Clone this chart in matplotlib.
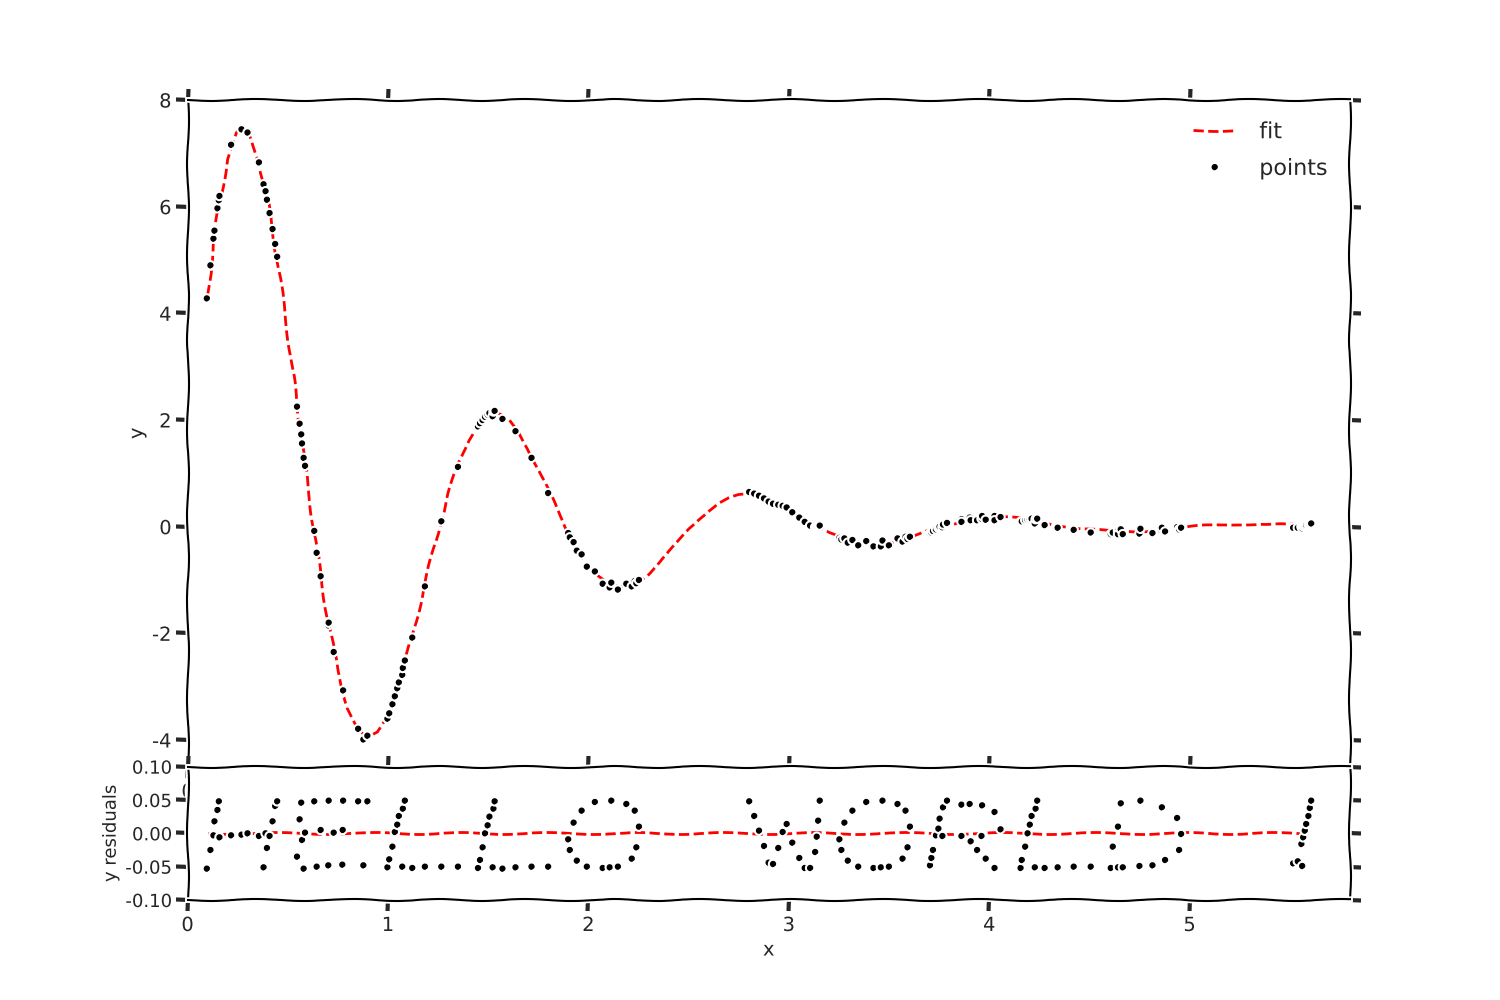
import matplotlib
matplotlib.use("Agg")
import matplotlib.pyplot as plt
from matplotlib.ticker import FormatStrFormatter

# ---- fit curve ----
fit_x = [0.10, 0.15, 0.20, 0.25, 0.275, 0.30, 0.35, 0.40, 0.45, 0.50, 0.55, 0.60, 0.65, 0.70, 0.75,
         0.80, 0.85, 0.90, 0.95, 1.00, 1.05, 1.10, 1.15, 1.20, 1.25, 1.30, 1.35, 1.40, 1.45,
         1.50, 1.55, 1.60, 1.65, 1.70, 1.75, 1.80, 1.85, 1.90, 1.95, 2.00, 2.05, 2.10, 2.15,
         2.20, 2.25, 2.30, 2.35, 2.40, 2.45, 2.50, 2.55, 2.60, 2.65, 2.70, 2.75, 2.80, 2.85,
         2.90, 2.95, 3.00, 3.05, 3.10, 3.15, 3.20, 3.25, 3.30, 3.35, 3.40, 3.45, 3.50, 3.55,
         3.60, 3.65, 3.70, 3.75, 3.80, 3.85, 3.90, 3.95, 4.00, 4.05, 4.10, 4.15, 4.20, 4.25,
         4.30, 4.35, 4.40, 4.45, 4.50, 4.55, 4.60, 4.65, 4.70, 4.75, 4.80, 4.85, 4.90, 4.95,
         5.00, 5.05, 5.10, 5.15, 5.20, 5.25, 5.30, 5.35, 5.40, 5.45, 5.50, 5.55, 5.60]
fit_y = [4.34, 5.87, 6.89, 7.39, 7.45, 7.39, 6.93, 6.10, 4.96, 3.63, 2.20, 0.77, -0.56, -1.74, -2.70,
         -3.40, -3.83, -3.97, -3.86, -3.53, -3.01, -2.35, -1.61, -0.84, -0.10, 0.59, 1.17, 1.62, 1.93,
         2.09, 2.11, 2.00, 1.77, 1.46, 1.09, 0.68, 0.27, -0.11, -0.45, -0.74, -0.95, -1.08, -1.13,
         -1.11, -1.02, -0.88, -0.69, -0.49, -0.28, -0.05, 0.14, 0.31, 0.45, 0.54, 0.59, 0.60, 0.57,
         0.51, 0.42, 0.32, 0.21, 0.10, -0.01, -0.12, -0.20, -0.26, -0.30, -0.32, -0.32, -0.30, -0.26,
         -0.21, -0.15, -0.08, -0.02, 0.03, 0.08, 0.12, 0.15, 0.17, 0.17, 0.17, 0.15, 0.13, 0.10,
         0.06, 0.03, 0.00, -0.03, -0.05, -0.07, -0.09, -0.09, -0.09, -0.09, -0.07, -0.06, -0.04, -0.03,
         -0.01, 0.01, 0.02, 0.03, 0.04, 0.05, 0.05, 0.05, 0.04, 0.04, 0.03, 0.02, 0.01]
fit_res = [0.0] * len(fit_x)

# ---- data points: x, y and residuals (spelling HELLO WORLD!) ----
point_x = [
    # H
    0.097, 0.115, 0.13, 0.135, 0.15, 0.157, 0.16, 0.218, 0.27, 0.30, 0.357, 0.38, 0.39, 0.397, 0.41, 0.425, 0.438, 0.448,
    # E
    0.547, 0.56, 0.568, 0.572, 0.58, 0.587, 0.633, 0.645, 0.665, 0.703, 0.705, 0.73, 0.773, 0.775, 0.777, 0.852, 0.878, 0.898,
    # L
    0.998, 1.007, 1.023, 1.035, 1.047, 1.055, 1.072, 1.075, 1.085, 1.122, 1.185, 1.267, 1.35,
    # L
    1.45, 1.46, 1.473, 1.485, 1.498, 1.507, 1.523, 1.527, 1.533, 1.572, 1.637, 1.717, 1.80,
    # O
    1.90, 1.908, 1.927, 1.943, 1.967, 1.993, 2.033, 2.072, 2.107, 2.115, 2.148, 2.19, 2.217, 2.232, 2.24, 2.253,
    # W
    2.803, 2.828, 2.852, 2.877, 2.90, 2.922, 2.948, 2.97, 2.99, 3.018, 3.053, 3.08, 3.107, 3.132, 3.14, 3.147, 3.155,
    # O
    3.253, 3.263, 3.278, 3.295, 3.318, 3.347, 3.387, 3.423, 3.46, 3.468, 3.50, 3.543, 3.568, 3.583, 3.593, 3.605,
    # R
    3.705, 3.712, 3.72, 3.735, 3.747, 3.753, 3.767, 3.77, 3.79, 3.862, 3.862, 3.903, 3.908, 3.94, 3.962, 3.965, 3.983, 4.027, 4.027, 4.057,
    # L
    4.157, 4.163, 4.18, 4.192, 4.203, 4.212, 4.228, 4.232, 4.24, 4.277, 4.342, 4.422, 4.507,
    # D
    4.607, 4.617, 4.643, 4.643, 4.657, 4.667, 4.75, 4.755, 4.815, 4.862, 4.878, 4.938, 4.948, 4.958,
    # !
    5.517, 5.54, 5.558, 5.562, 5.567, 5.575, 5.582, 5.593, 5.60, 5.607,
]
point_res = [
    -0.053, -0.025, -0.003, 0.018, 0.035, 0.048, -0.006, -0.003, -0.002, 0.000, -0.004, -0.051, 0.000, -0.022, -0.004, 0.018, 0.041, 0.048,
    -0.035, 0.021, 0.046, -0.010, -0.053, 0.001, 0.048, -0.050, 0.005, -0.048, 0.049, 0.001, -0.047, 0.005, 0.049, 0.048, -0.048, 0.048,
    -0.051, -0.039, -0.020, 0.002, 0.013, 0.026, -0.050, 0.037, 0.049, -0.052, -0.050, -0.050, -0.050,
    -0.052, -0.040, -0.021, 0.000, 0.012, 0.025, -0.051, 0.037, 0.048, -0.053, -0.051, -0.050, -0.050,
    -0.009, -0.025, 0.016, -0.041, 0.034, -0.050, 0.047, -0.052, -0.051, 0.049, -0.050, 0.044, -0.038, 0.034, -0.021, 0.010,
    0.048, 0.026, 0.004, -0.019, -0.044, -0.046, -0.022, 0.002, 0.014, -0.014, -0.037, -0.052, -0.052, -0.028, -0.005, 0.019, 0.049,
    -0.009, -0.025, 0.016, -0.041, 0.034, -0.050, 0.047, -0.052, -0.051, 0.049, -0.050, 0.044, -0.038, 0.034, -0.021, 0.010,
    -0.048, -0.037, -0.025, -0.003, 0.007, 0.022, -0.004, 0.039, 0.049, 0.043, -0.004, 0.044, -0.012, -0.025, -0.004, 0.042, -0.038, 0.032, -0.052, 0.006,
    -0.052, -0.040, -0.020, 0.000, 0.013, 0.026, -0.051, 0.037, 0.049, -0.052, -0.051, -0.050, -0.050,
    -0.052, -0.020, 0.010, -0.051, 0.045, -0.051, -0.049, 0.049, -0.048, 0.039, -0.040, 0.023, -0.025, -0.001,
    -0.045, -0.042, -0.016, -0.049, -0.006, 0.004, 0.014, 0.026, 0.038, 0.049,
]
point_y = [
    4.28, 4.90, 5.40, 5.55, 5.97, 6.12, 6.20, 7.16, 7.45, 7.39, 6.83, 6.42, 6.29, 6.13, 5.88, 5.58, 5.30, 5.06,
    2.25, 1.93, 1.73, 1.56, 1.29, 1.14, -0.08, -0.49, -0.93, -1.85, -1.80, -2.35, -3.11, -3.08, -3.07, -3.79, -3.99, -3.92,
    -3.60, -3.50, -3.33, -3.18, -3.03, -2.92, -2.78, -2.65, -2.51, -2.08, -1.12, 0.10, 1.12,
    1.88, 1.94, 2.00, 2.06, 2.10, 2.13, 2.07, 2.16, 2.17, 2.02, 1.79, 1.29, 0.63,
    -0.12, -0.20, -0.29, -0.45, -0.52, -0.75, -0.84, -1.07, -1.14, -1.05, -1.18, -1.07, -1.12, -1.02, -1.06, -1.00,
    0.65, 0.62, 0.58, 0.53, 0.47, 0.43, 0.41, 0.39, 0.36, 0.27, 0.17, 0.09, 0.02, -0.01, 0.00, 0.01, 0.02,
    -0.21, -0.24, -0.22, -0.30, -0.25, -0.35, -0.27, -0.37, -0.37, -0.26, -0.35, -0.22, -0.28, -0.19, -0.23, -0.19,
    -0.13, -0.11, -0.08, -0.05, -0.02, 0.00, -0.01, 0.04, 0.07, 0.14, 0.09, 0.17, 0.12, 0.12, 0.15, 0.20, 0.13, 0.20, 0.12, 0.18,
    0.09, 0.10, 0.12, 0.13, 0.14, 0.15, 0.06, 0.14, 0.15, 0.03, -0.02, -0.06, -0.11,
    -0.14, -0.11, -0.08, -0.14, -0.05, -0.14, -0.13, -0.04, -0.12, -0.02, -0.09, -0.01, -0.05, -0.02,
    -0.02, -0.02, 0.00, -0.03, 0.01, 0.02, 0.03, 0.04, 0.05, 0.06,
]

top_yticks = [-4, -2, 0, 2, 4, 6, 8]
res_yticks = [-0.10, -0.05, 0.00, 0.05, 0.10]

with plt.xkcd():
    plt.rcParams['font.family'] = ['DejaVu Sans']
    plt.rcParams['font.size'] = 14
    plt.rcParams['text.color'] = '#262626'
    plt.rcParams['xtick.color'] = '#262626'
    plt.rcParams['ytick.color'] = '#262626'
    plt.rcParams['axes.labelcolor'] = '#262626'
    fig = plt.figure(figsize=(15, 10), dpi=100)
    gs = fig.add_gridspec(2, 1, height_ratios=[5, 1], hspace=0,
                          left=0.125, right=0.9, top=0.9, bottom=0.1)
    ax1 = fig.add_subplot(gs[0])
    ax2 = fig.add_subplot(gs[1])

    ax1.plot(fit_x, fit_y, 'r--', label='fit')
    ax1.plot(point_x, point_y, 'k.', label='points')
    ax1.set_xlim(0, 5.8)
    ax1.set_ylim(-4.5, 8)
    ax1.set_yticks(top_yticks)
    ax1.set_ylabel('y')
    ax1.legend(loc='upper right', frameon=False, numpoints=1,
               fontsize=16, handletextpad=1.0, labelspacing=0.75,
               borderaxespad=0.6)

    ax2.plot(fit_x, fit_res, 'r--')
    ax2.plot(point_x, point_res, 'k.')
    ax2.set_xlim(0, 5.8)
    ax2.set_ylim(-0.1, 0.1)
    ax2.set_yticks(res_yticks)
    ax2.yaxis.set_major_formatter(FormatStrFormatter('%.2f'))
    ax2.set_xlabel('x')
    ax2.set_ylabel('y residuals', fontsize=13)

    for ax in (ax1, ax2):
        ax.tick_params(direction='out', top=True, right=True, length=8, width=3)
    ax2.tick_params(axis='y', labelsize=13)

    fig.savefig('out.png', dpi=100)
